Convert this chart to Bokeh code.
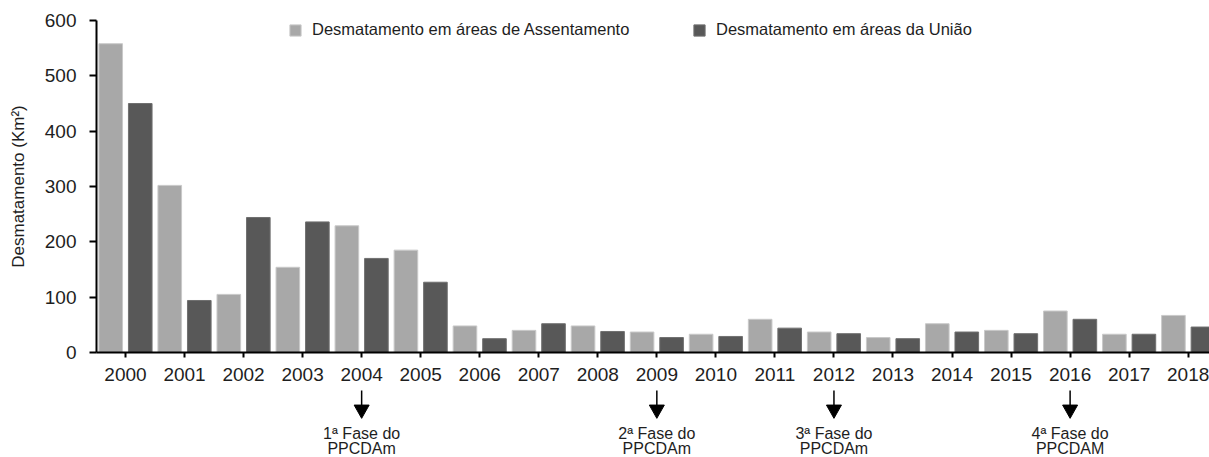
from bokeh.plotting import figure
from bokeh.layouts import column
from bokeh.models import (Range1d, FixedTicker, Legend, LegendItem, ColumnDataSource)
from bokeh.core.properties import value
from bokeh.transform import dodge
from bokeh.embed import file_html
from bokeh.resources import INLINE

# ---- data ----
years = [2000, 2001, 2002, 2003, 2004, 2005, 2006, 2007, 2008, 2009,
         2010, 2011, 2012, 2013, 2014, 2015, 2016, 2017, 2018]
year_labels = [str(y) for y in years]
assentamento = [558, 302, 105, 154, 229, 185, 48, 40, 48, 37,
                33, 60, 37, 27, 52, 40, 75, 33, 67]
uniao = [450, 94, 244, 236, 170, 127, 25, 52, 38, 27,
         29, 44, 34, 25, 37, 34, 60, 33, 46]
y_ticks = [0, 100, 200, 300, 400, 500, 600]
series_names = ["Desmatamento em áreas de Assentamento", "Desmatamento em áreas da União"]
phase_years = [2004, 2009, 2012, 2016]
phase_line1 = ["1ª Fase do", "2ª Fase do", "3ª Fase do", "4ª Fase do"]
phase_line2 = ["PPCDAm", "PPCDAm", "PPCDAm", "PPCDAM"]

FONT = "Liberation Sans"
TXT = "#1e1e1e"
LIGHT = "#a8a8a8"
DARK = "#585858"

src = ColumnDataSource(dict(year=years, a=assentamento, u=uniao))

TOP_H = 390
p = figure(width=1209, height=TOP_H, output_backend="svg", toolbar_location=None,
           x_range=Range1d(1999.509, 2018.361), y_range=Range1d(0, 600),
           min_border_left=96, min_border_right=0, min_border_top=20,
           min_border_bottom=TOP_H - 352)
p.outline_line_color = None
p.xgrid.visible = False
p.ygrid.visible = False

r1 = p.vbar(x=dodge("year", -0.25, range=p.x_range), top="a", width=0.4, source=src,
            fill_color=LIGHT, line_color="#c9c9c9", line_width=1)
r2 = p.vbar(x=dodge("year", 0.25, range=p.x_range), top="u", width=0.4, source=src,
            fill_color=DARK, line_color="#707070", line_width=1)

# axes
xa = p.xaxis[0]
xa.ticker = FixedTicker(ticks=years)
xa.major_label_overrides = {y: l for y, l in zip(years, year_labels)}
xa.minor_tick_line_color = None
xa.major_tick_out = 5
xa.major_tick_in = 0
xa.major_tick_line_width = 2
xa.axis_line_width = 2
xa.axis_line_color = "black"
xa.major_tick_line_color = "black"
xa.major_label_text_font = FONT
xa.major_label_text_font_size = "19px"
xa.major_label_text_color = TXT
xa.major_label_standoff = 10

ya = p.yaxis[0]
ya.ticker = FixedTicker(ticks=y_ticks)
ya.minor_tick_line_color = None
ya.major_tick_out = 7
ya.major_tick_in = 0
ya.major_tick_line_width = 2
ya.axis_line_width = 2
ya.axis_line_color = "black"
ya.major_tick_line_color = "black"
ya.major_label_text_font = FONT
ya.major_label_text_font_size = "19px"
ya.major_label_text_color = TXT
ya.major_label_standoff = 13
ya.axis_label = "Desmatamento (Km²)"
ya.axis_label_text_font = FONT
ya.axis_label_text_font_size = "17px"
ya.axis_label_text_font_style = "normal"
ya.axis_label_text_color = TXT
ya.axis_label_standoff = 14

# legends (two separate, positioned like the reference)
for name, r, loc in [(series_names[0], r1, (192, 313)), (series_names[1], r2, (596, 313))]:
    lg = Legend(items=[LegendItem(label=name, renderers=[r])], location=loc,
                orientation="horizontal", padding=0, margin=0, spacing=0,
                glyph_width=14, glyph_height=14, label_height=18, label_standoff=10,
                label_text_font=FONT, label_text_font_size="16.5px", label_text_color=TXT,
                background_fill_alpha=0, border_line_alpha=0)
    p.add_layout(lg)

# ---- phase annotations: a second strip sharing the x scale ----
BOT_H = 457 - TOP_H
px_per_unit = 332 / 600.0
y_top = -(TOP_H - 352) / px_per_unit
y_bot = y_top - BOT_H / px_per_unit
q = figure(width=1209, height=BOT_H, output_backend="svg", toolbar_location=None,
           x_range=p.x_range, y_range=Range1d(y_bot, y_top),
           x_axis_location=None, y_axis_location=None,
           min_border_left=96, min_border_right=0, min_border_top=0, min_border_bottom=0)
q.outline_line_color = None
q.xgrid.visible = False
q.ygrid.visible = False

half_w = 0.127
ann = ColumnDataSource(dict(
    x=phase_years,
    y0=[-59] * len(phase_years), y1=[-96] * len(phase_years),
    tx=[[yr - half_w, yr + half_w, yr] for yr in phase_years],
    ty=[[-95, -95, -119] for _ in phase_years],
    l1=phase_line1, l2=phase_line2,
    ly1=[-146] * len(phase_years), ly2=[-174] * len(phase_years),
))
q.segment(x0="x", y0="y0", x1="x", y1="y1", source=ann, line_color="black", line_width=1.5)
q.patches(xs="tx", ys="ty", source=ann, fill_color="black", line_color="black", line_width=1)
q.text(x="x", y="ly1", text="l1", source=ann, text_align="center", text_baseline="middle",
       text_font=value(FONT), text_font_size="16px", text_color=TXT)
q.text(x="x", y="ly2", text="l2", source=ann, text_align="center", text_baseline="middle",
       text_font=value(FONT), text_font_size="16px", text_color=TXT)

layout = column(p, q, spacing=0)
open("out.html", "w").write(file_html(layout, INLINE))
